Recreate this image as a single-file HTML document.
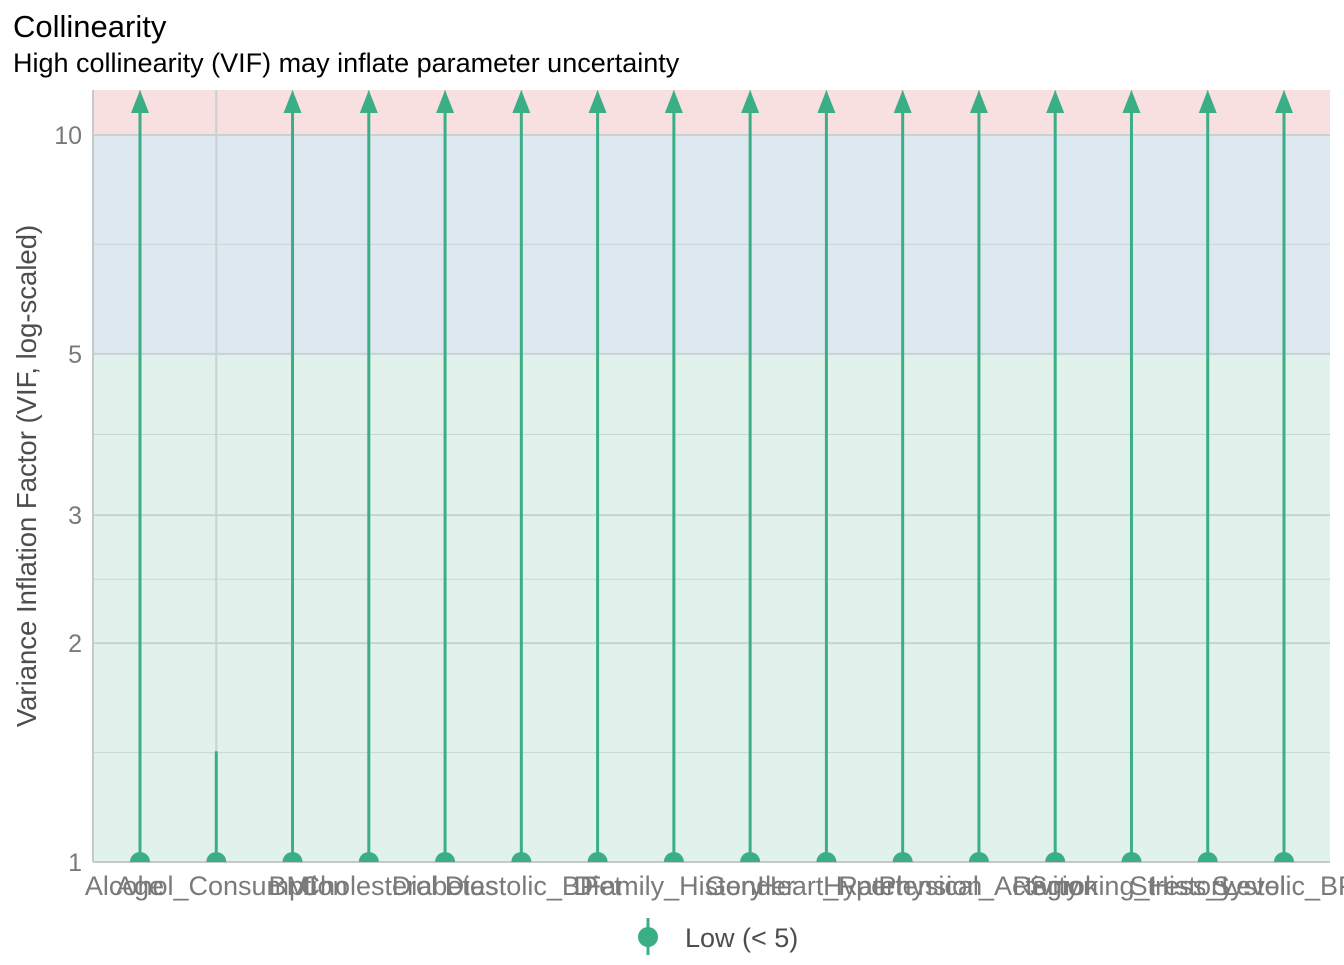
<!DOCTYPE html>
<html><head><meta charset="utf-8"><style>
body{margin:0;background:#fff}
svg text{font-family:"Liberation Sans",sans-serif}
</style></head><body>
<svg id="chart" width="1344" height="960" xmlns="http://www.w3.org/2000/svg">
<text x="13" y="37" font-size="31" fill="#000">Collinearity</text>
<text x="13" y="72" font-size="27" fill="#000">High collinearity (VIF) may inflate parameter uncertainty</text>
<text transform="translate(36,476) rotate(-90)" text-anchor="middle" font-size="27.5" fill="#4d4d4d">Variance Inflation Factor (VIF, log-scaled)</text>
<g id="plot"></g>
<g>
<line x1="648" y1="918" x2="648" y2="955" stroke="#3aaf85" stroke-width="3"/>
<circle cx="648" cy="937" r="10" fill="#3aaf85"/>
<text x="685" y="947" font-size="27" fill="#4d4d4d">Low (&lt; 5)</text>
</g>
</svg>
<script>
const categories=["Age","Alcohol_Consumption","BMI","Cholesterol","Diabetes","Diastolic_BP","Diet","Family_History","Gender","Heart_Rate","Hypertension","Physical_Activity","Region","Smoking_History","Stress_Level","Systolic_BP"];
const vif=[1,1,1,1,1,1,1,1,1,1,1,1,1,1,1,1];
const ciHigh=[100,1.42,100,100,100,100,100,100,100,100,100,100,100,100,100,100];
const yTicks=[1,2,3,5,10];
const yMinor=[1.414,2.449,3.873,7.071];
const NS="http://www.w3.org/2000/svg";
const L=93,R=1330,T=90,B=862;
const yMax=Math.pow(10,(B-T)/727);
function y(v){return B-727*Math.log10(v);}
function x(i){return 140+i*(1284-140)/(categories.length-1);}
const g=document.getElementById('plot');
function mk(tag,attrs){const e=document.createElementNS(NS,tag);for(const k in attrs)e.setAttribute(k,attrs[k]);g.appendChild(e);return e;}
let e;
e=mk('rect',{x:L,y:y(5),width:R-L,height:B-y(5),fill:'#e1f2ec'});


e=mk('rect',{x:L,y:y(10),width:R-L,height:y(5)-y(10),fill:'#dde8f0'});


e=mk('rect',{x:L,y:T,width:R-L,height:y(10)-T,fill:'#f8dfe0'});


yMinor.forEach(v=>{e=mk('line',{x1:L,x2:R,y1:y(v),y2:y(v),stroke:'#c9d6d3','stroke-width':1});

});
yTicks.forEach(v=>{e=mk('line',{x1:L,x2:R,y1:y(v),y2:y(v),stroke:'#c8d2d2','stroke-width':2});


e=mk('text',{x:82,y:y(v)+9,'text-anchor':'end','font-size':25,fill:'#7a7a7a'});e.textContent=v;

});
categories.forEach((c,i)=>{
e=mk('line',{x1:x(i),x2:x(i),y1:T,y2:B,stroke:'#c8d2d2','stroke-width':2});


});
e=mk('line',{x1:L,x2:L,y1:T,y2:B,stroke:'#c8c8c8','stroke-width':2});


e=mk('line',{x1:L,x2:R,y1:B,y2:B,stroke:'#c8c8c8','stroke-width':2});


const clip=mk('clipPath',{id:'pc'});const cr=document.createElementNS(NS,'rect');cr.setAttribute('x',L);cr.setAttribute('y',T);cr.setAttribute('width',R-L);cr.setAttribute('height',B-T);clip.appendChild(cr);
categories.forEach((c,i)=>{
const xi=x(i);const hi=Math.min(ciHigh[i],yMax);const arrow=ciHigh[i]>yMax;
const top=arrow?y(hi)+16:y(hi);
e=mk('line',{x1:xi,x2:xi,y1:y(vif[i]),y2:top,stroke:'#3aaf85','stroke-width':3});


if(arrow){e=mk('polygon',{points:`${xi},${y(hi)} ${xi-9},${y(hi)+23} ${xi+9},${y(hi)+23}`,fill:'#3aaf85'});

}
e=mk('circle',{cx:xi,cy:y(vif[i]),r:10,fill:'#3aaf85','clip-path':'url(#pc)'});


e=mk('text',{x:xi,y:895,'text-anchor':'middle','font-size':27,fill:'#7a7a7a'});e.textContent=c;


});
</script>
</body></html>
